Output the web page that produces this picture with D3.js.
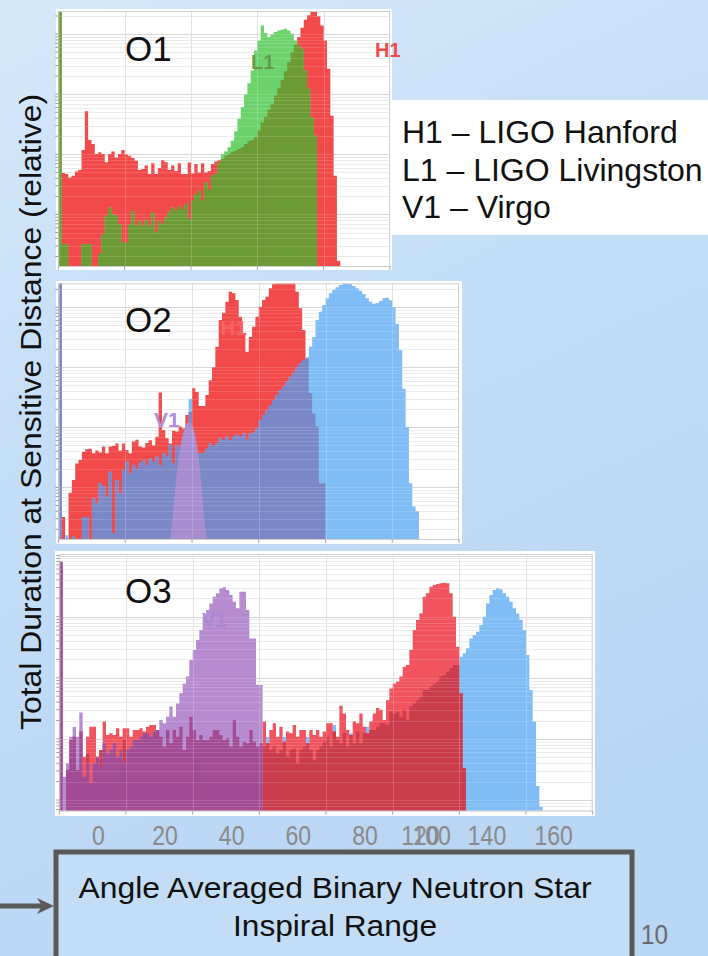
<!DOCTYPE html>
<html><head><meta charset="utf-8">
<script src="https://cdn.jsdelivr.net/npm/d3@7"></script>
<style>body{margin:0;background:#c8dff6}svg{display:block}</style>
</head><body>
<svg id="c" width="708" height="956"></svg>
<script>
// ---------------- DATA (1-Mpc bins, relative duration, log scale) ----------------
const detectors = ["H1", "L1", "V1"];
const legendLines = ["H1 \u2013 LIGO Hanford", "L1 \u2013 LIGO Livingston", "V1 \u2013 Virgo"];
const runs = ["O1", "O2", "O3"];

const o1H1 = [3000,
 4.9,4.7,4.1,4.4,5.2,5.5,11.8,52,17.3,14.9,
 10.1,10.8,10.1,7.4,10.1,11.2,8.9,10.1,11.8,9.9,
 9.5,8.7,7.8,5.5,5.7,6.5,4.7,7.1,4.7,5.9,
 8.0,7.4,5.5,6.5,5.3,7.1,4.7,4.7,7.3,4.8,
 6.9,5.0,7.1,5.0,5.3,6.9,7.6,8.0,8.4,
 9.5,10.1,10.8,11.5,12.3,13.1,14.9,16.5,17.3,19.2,
 24.8,34,42,55,69,95,126,173,242,341,
 501,673,891,1275,1733,2047,2326,2326,1970,1395,
 784,264,44,4.4,0.17];
const o1L1 = [3000,
 0.32,0.32,0,0,0,0,0.32,0.32,0.32,0,
 0,0.22,0.47,0.95,1.31,1.01,0.95,0.69,0.34,0.34,
 0.69,1.12,0.65,0.78,0.65,0.80,0.65,1.08,0.50,0.78,
 0.69,0.89,1.12,1.31,1.15,1.34,1.23,1.49,0.84,1.69,
 2.18,2.48,1.69,3.4,2.55,4.4,4.7,7.4,10.1,
 11.2,13.1,16.9,24,39,61,99,152,248,534,
 784,1395,1039,891,987,1080,1151,1176,1228,1151,
 1013,784,647,570,248,123,41,20.5];

const o2H1 = [3000,
 0.32,0,0.81,1.33,2.5,2.85,3.9,4.3,4.4,3.69,
 4.1,3.8,4.8,3.69,4.8,4.9,5.4,4.1,5.4,4.2,
 3.69,5.8,6.2,4.8,4.6,5.5,6.1,5.0,7.0,38,
 9.0,6.6,5.4,8.8,8.5,10.3,9.6,16,18.2,45,
 39,22.7,22.7,34.6,61,100,221,615,815,1243,
 1824,1711,1325,699,346,182,320,476,699,1026,
 1325,1506,2073,2449,2900,2900,2900,2900,2900,2900,
 1824,962,419,141,37,17,10.3,1.17,1.17];
const o2L1 = [3000,
 0,0.16,0,0.15,0,0,0.32,0.32,0,0.66,
 0.54,1.17,1.03,0.70,1.82,0.17,1.33,0.79,1.95,2.68,
 1.71,2.36,2.0,2.58,2.85,2.36,3.04,2.68,3.25,2.36,
 3.69,3.25,5.1,2.5,5.1,4.4,4.2,10.3,30,7.0,
 3.69,3.69,3.69,4.4,5.4,4.8,5.4,6.6,6.1,7.0,
 6.1,7.0,7.5,7.0,7.9,6.2,7.9,8.1,9.6,13.2,
 16,19.5,23.6,28.5,34.6,42,49,58,70,81,
 100,117,132,147,221,320,615,847,1094,1413,
 1711,1945,2154,2356,2512,2512,2449,2268,2073,1896,
 1668,1413,1243,1151,1181,1275,1413,1449,1308,1013,
 534,192,44,10.1,1.17,0.48,0.4];
// Virgo in O2: smooth curve sampled at bin centres starting at 33.5 Mpc
const o2V1Start = 33.5;
const o2V1 = [0.1,0.48,1.95,4.8,8.5,11.7,12.0,9.0,4.8,1.7,0.37,0.1];

const o3H1 = [800,0,0.31,0.96,1.09,0.31,1.32,0.51,1.09,1.59,
 1.59,0.51,0.66,1.92,1.16,1.24,1.16,1.49,1.09,1.49,
 1.49,1.09,1.40,1.40,1.49,1.32,1.59,1.69,1.69,1.40,
 1.09,0.75,1.40,0.85,1.40,1.09,1.59,0.66,1.09,2.3,
 1.40,0.96,1.16,0.96,0.96,1.09,1.40,1.40,1.16,0.96,
 1.03,0.75,2.05,1.09,0.75,0.90,0.85,1.40,0.90,0.75,
 0.85,1.92,0.85,1.40,1.80,1.09,1.59,0.90,1.32,1.24,
 1.69,1.09,1.40,1.40,0.85,1.40,1.16,1.40,1.09,1.32,
 1.80,1.80,1.32,1.09,3.5,2.6,1.40,1.16,1.92,1.80,
 2.6,1.59,1.24,1.92,2.6,3.2,3.0,2.05,4.3,6.7,
 8.1,8.7,10.5,15.2,16.2,28.5,60.5,88,113,212,
 241,309,330,342,351,360,351,241,100,32.3,
 5.6,0.33];
const o3V1 = [780,0.24,0.40,1.09,1.59,1.09,2.7,0.24,0.40,0.19,
 0.40,0.51,0.35,0.85,0.58,0.66,0.85,0.51,0.66,0.40,
 0.66,0.75,0.96,0.96,1.09,1.24,1.24,1.09,1.32,1.40,
 2.05,1.80,2.3,3.4,2.3,3.8,5.6,8.1,10.5,19.6,
 28.5,41.6,60.5,100,129,165,212,241,291,302,
 273,226,176,137,256,256,129,44,44,7.6,
 7.6];
const o3L1 = [0,0,0.19,0.66,0.33,0.19,0.31,0.24,0.57,0.19,
 0.35,0.40,0.66,0.51,0.58,0.40,0.66,0.51,0.58,0.96,
 0.66,0.51,0.58,0.66,0.51,0.75,0.58,0.66,0.58,0.85,
 0.66,0.51,0.75,0.58,0.66,0.51,0.75,0.58,0.66,0.75,
 0.66,0.51,0.66,0.58,0.66,0.75,0.58,0.85,0.66,0.58,
 0.66,0.51,0.75,0.66,0.58,0.66,0.51,0.75,0.66,0.58,
 0.66,0.75,1.09,0.66,0.75,0.58,0.66,1.09,0.51,0.66,
 0.70,0.40,0.66,0.75,1.09,0.66,0.45,0.66,0.75,0.90,
 1.09,0.75,1.69,0.96,0.85,1.24,0.75,1.24,0.85,1.32,
 0.85,1.24,1.59,1.40,1.40,1.59,1.80,1.80,1.69,2.8,
 2.6,2.8,2.3,3.0,2.05,3.4,3.8,4.3,4.9,6.3,
 6.3,7.2,8.1,8.7,10.5,11.1,12.6,14.3,16.2,16.2,
 22.2,25.2,30.4,44,50,56.9,73,100,165,226,
 273,291,280,241,212,176,137,113,88,60.5,
 23.6,6.3,1.92,0.17,0.078];

const tickLabelsLow = [0, 20, 40, 60, 80, 100];
const tickLabelsHigh = [120, 140, 160];
const yTitle = "Total Duration at Sensitive Distance (relative)";
const xTitle = ["Angle Averaged Binary Neutron Star", "Inspiral Range"];
const pageNo = "10";

// ---------------- DRAWING ----------------
const svg = d3.select("#c");
const defs = svg.append("defs");
const bg = defs.append("linearGradient").attr("id","bg").attr("x1",0).attr("y1",0).attr("x2",0.35).attr("y2",1);
bg.append("stop").attr("offset","0%").attr("stop-color","#d5e8fa");
bg.append("stop").attr("offset","45%").attr("stop-color","#c4def7");
bg.append("stop").attr("offset","100%").attr("stop-color","#b9d6f3");
svg.append("rect").attr("width",708).attr("height",956).attr("fill","url(#bg)");

const sans = "'Liberation Sans', Arial, sans-serif";
const narrow = "'Liberation Sans Narrow', 'Arial Narrow', 'Liberation Sans', sans-serif";

// legend box (behind O1 panel)
svg.append("rect").attr("x",383).attr("y",100).attr("width",325).attr("height",135).attr("fill","#fff");
svg.append("g").selectAll("text").data(legendLines).join("text")
  .attr("x",402).attr("y",(d,i)=>143+i*37.5)
  .attr("font-family",sans).attr("font-size",32).attr("fill","#111").text(d=>d);

function panel(cfg){
  const {id,left,right,top,bottom,xMax,yMin,yMax,box} = cfg;
  const g = svg.append("g");
  g.append("rect").attr("x",box[0]).attr("y",box[1]).attr("width",box[2]).attr("height",box[3]).attr("fill","#fff");
  const x = d3.scaleLinear().domain([0,xMax]).range([left,right]);
  const y = d3.scaleLog().domain([yMin,yMax]).range([bottom,top]);
  defs.append("clipPath").attr("id","clip"+id).append("rect")
    .attr("x",left).attr("y",top).attr("width",right-left).attr("height",bottom-top);
  const minors = [];
  for (let e=-2;e<=4;e++) for (let m=1;m<=9;m++){ const v=m*Math.pow(10,e); if(v>yMin && v<yMax) minors.push(v); }
  const isDec = v => Math.abs(Math.log10(v)-Math.round(Math.log10(v)))<1e-9;
  const vx = d3.range(20,xMax,20);
  function grid(layer, over){
    layer.selectAll("line.h").data(minors).join("line").attr("class","h")
      .attr("x1",left).attr("x2",right).attr("y1",d=>Math.round(y(d))+0.5).attr("y2",d=>Math.round(y(d))+0.5)
      .attr("stroke", over ? "#ffffff" : (d=>isDec(d)?"#d2d2d2":"#e8e8e8"))
      .attr("stroke-opacity", over ? 0.13 : 1).attr("stroke-width",1);
    layer.selectAll("line.v").data(vx).join("line").attr("class","v")
      .attr("x1",d=>Math.round(x(d))+0.5).attr("x2",d=>Math.round(x(d))+0.5).attr("y1",top).attr("y2",bottom)
      .attr("stroke", over ? "#ffffff" : "#dcdcdc").attr("stroke-opacity", over ? 0.18 : 1);
  }
  grid(g.append("g"), false);
  const plot = g.append("g").attr("clip-path","url(#clip"+id+")");
  const clampV = v => Math.min(Math.max(v,yMin),yMax*1.5);
  function step(vals, color){
    const pts = vals.map((v,i)=>[i,v]);
    pts.push([vals.length, vals[vals.length-1]]);
    const a = d3.area().curve(d3.curveStepAfter).x(d=>x(d[0])).y0(bottom).y1(d=>y(clampV(d[1])));
    plot.append("path").attr("d",a(pts)).attr("fill",color);
  }
  function smooth(start, vals, color){
    const pts = vals.map((v,i)=>[start+i,v]);
    const a = d3.area().curve(d3.curveMonotoneX).x(d=>x(d[0])).y0(bottom).y1(d=>y(clampV(d[1])));
    plot.append("path").attr("d",a(pts)).attr("fill",color);
  }
  function text(t, px, py, size, color, weight){
    return g.append("text").attr("x",px).attr("y",py).attr("font-family",sans)
      .attr("font-size",size).attr("font-weight",weight||"normal").attr("fill",color).text(t);
  }
  function finish(){
    grid(plot.append("g"), true);
    g.append("rect").attr("x",left+0.5).attr("y",top+0.5).attr("width",right-left-1).attr("height",bottom-top)
      .attr("fill","none").attr("stroke","#cfcfcf");
    g.append("g").selectAll("line").data(minors).join("line")
      .attr("x1",left-3).attr("x2",left).attr("y1",d=>y(d)).attr("y2",d=>y(d))
      .attr("stroke","#9a9a9a");
    g.append("g").selectAll("line").data([0].concat(vx,[xMax])).join("line")
      .attr("x1",d=>x(d)).attr("x2",d=>x(d)).attr("y1",bottom).attr("y2",bottom+4)
      .attr("stroke","#aaaaaa");
  }
  return {g,x,y,step,smooth,text,finish};
}
const minOf = (a,b) => d3.range(Math.min(a.length,b.length)).map(i=>Math.min(a[i],b[i]));

// ---- O1 ----
const p1 = panel({id:1,left:58.3,right:390,top:11,bottom:266,xMax:100,yMin:0.139,yMax:2420,box:[56,9,336,261]});
p1.step(o1H1,"#f24a4a");
p1.step(o1L1,"#6cd36c");
p1.step(minOf(o1H1,o1L1),"#6c9b34");
p1.finish();
p1.text(runs[0],125,61,35,"#111");
p1.text(detectors[1],251,69,20,"#5d9e48","bold");
p1.text(detectors[0],375,57,20,"#f24a4a","bold");

// ---- O2 ----
const p2 = panel({id:2,left:58.5,right:459,top:283.3,bottom:539,xMax:120,yMin:0.138,yMax:2512,box:[56,281,406,263]});
p2.step(o2H1,"#f24a4a");
p2.step(o2L1,"#80bdf6");
p2.step(minOf(o2H1,o2L1),"#7b88c7");
p2.text(detectors[0],220,335,21,"#f56262","bold");
p2.smooth(o2V1Start,o2V1,"#a78dcf");
p2.finish();
p2.text(runs[1],125,332,35,"#111");
p2.text(detectors[2],154,427,21,"#b28ddd","bold");

// ---- O3 ----
const p3 = panel({id:3,left:59.3,right:592.7,top:554,bottom:810.7,xMax:160,yMin:0.067,yMax:1060,box:[55,551,540,265]});
p3.step(o3L1,"#80bdf6");
p3.step(o3H1,"#f2545f");
p3.step(minOf(o3H1,o3L1),"#cb3d4d");
p3.text(detectors[2],202,627,20,"#a98ad0","bold");
p3.step(o3V1,"#b78bd0");
p3.step(minOf(o3V1,o3H1),"#a34c93");
p3.finish();
p3.text(runs[2],125,603,35,"#111");

// x tick labels (as placed on the slide)
const tl = svg.append("g").attr("font-family",narrow).attr("font-size",27).attr("fill","#8a8a8a").attr("text-anchor","middle");
tl.selectAll("text.a").data(tickLabelsLow).join("text").attr("class","a")
  .attr("x",d=>p3.x(d)+39).attr("y",845).attr("textLength",d=>String(d).length*12.8).attr("lengthAdjust","spacingAndGlyphs").text(d=>d);
tl.selectAll("text.b").data(tickLabelsHigh).join("text").attr("class","b")
  .attr("x",d=>p3.x(d)-39).attr("y",845).attr("textLength",d=>String(d).length*12.8).attr("lengthAdjust","spacingAndGlyphs").text(d=>d);

// y title
svg.append("text").attr("transform","translate(41,412) rotate(-90)").attr("text-anchor","middle")
  .attr("font-family",narrow).attr("font-size",30).attr("fill","#111")
  .attr("textLength",636).attr("lengthAdjust","spacingAndGlyphs").text(yTitle);

// x title box
svg.append("rect").attr("x",56).attr("y",852).attr("width",576).attr("height",130)
  .attr("fill","#c3ddf7").attr("stroke","#585858").attr("stroke-width",5);
svg.append("g").selectAll("text").data(xTitle).join("text")
  .attr("x",335).attr("y",(d,i)=>898+i*38).attr("text-anchor","middle")
  .attr("font-family",narrow).attr("font-size",29).attr("fill","#111")
  .attr("textLength",(d,i)=>i===0?513:204).attr("lengthAdjust","spacingAndGlyphs").text(d=>d);
// arrow
svg.append("line").attr("x1",0).attr("x2",44).attr("y1",906).attr("y2",906).attr("stroke","#5a5a5a").attr("stroke-width",5);
svg.append("path").attr("d","M37,898 L54,906 L37,914 L42,906 Z").attr("fill","#5a5a5a");
// page number
svg.append("text").attr("x",641).attr("y",944).attr("font-family",narrow).attr("font-size",27)
  .attr("fill","#6a6a6a").attr("textLength",27).attr("lengthAdjust","spacingAndGlyphs").text(pageNo);
</script>
</body></html>
